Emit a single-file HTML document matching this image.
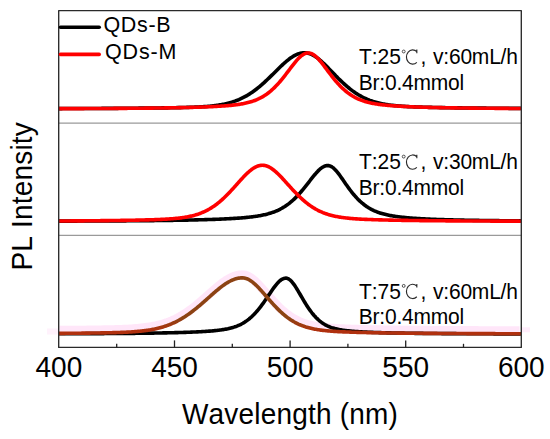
<!DOCTYPE html>
<html><head><meta charset="utf-8"><style>
html,body{margin:0;padding:0;background:#fff;}
svg{display:block;}
text{font-family:"Liberation Sans",sans-serif;fill:#000;font-kerning:none;}
</style></head><body>
<svg width="550" height="439" viewBox="0 0 550 439">
<defs><linearGradient id="bg" gradientUnits="userSpaceOnUse" x1="0" y1="318" x2="0" y2="331"><stop offset="0" stop-color="#8c4313"/><stop offset="1" stop-color="#b0300e"/></linearGradient><filter id="bl" x="-5%" y="-20%" width="110%" height="140%"><feGaussianBlur stdDeviation="2.5"/></filter></defs>
<g fill="none" stroke-linejoin="round" stroke-linecap="butt">
<path d="M59.50,333.37 L61.50,333.35 L63.50,333.34 L65.50,333.32 L67.50,333.31 L69.50,333.29 L71.50,333.27 L73.50,333.25 L75.50,333.24 L77.50,333.22 L79.50,333.20 L81.50,333.18 L83.50,333.16 L85.50,333.13 L87.50,333.11 L89.50,333.09 L91.50,333.06 L93.50,333.03 L95.50,333.01 L97.50,332.98 L99.50,332.94 L101.50,332.91 L103.50,332.87 L105.50,332.84 L107.50,332.80 L109.50,332.75 L111.50,332.70 L113.50,332.65 L115.50,332.60 L117.50,332.53 L119.50,332.47 L121.50,332.39 L123.50,332.31 L125.50,332.22 L127.50,332.12 L129.50,332.01 L131.50,331.89 L133.50,331.76 L135.50,331.61 L137.50,331.44 L139.50,331.26 L141.50,331.05 L143.50,330.82 L145.50,330.57 L147.50,330.29 L149.50,329.98 L151.50,329.64 L153.50,329.26 L155.50,328.85 L157.50,328.39 L159.50,327.89 L161.50,327.35 L163.50,326.75 L165.50,326.10 L167.50,325.40 L169.50,324.64 L171.50,323.82 L173.50,322.94 L175.50,321.99 L177.50,320.98 L179.50,319.90 L181.50,318.75 L183.50,317.54 L185.50,316.26 L187.50,314.91 L189.50,313.50 L191.50,312.03 L193.50,310.50 L195.50,308.92 L197.50,307.29 L199.50,305.61 L201.50,303.90 L203.50,302.16 L205.50,300.39 L207.50,298.61 L209.50,296.83 L211.50,295.06 L213.50,293.30 L215.50,291.57 L217.50,289.89 L219.50,288.26 L221.50,286.71 L223.50,285.23 L225.50,283.85 L227.50,282.59 L229.50,281.45 L231.50,280.45 L233.50,279.59 L235.50,278.90 L237.50,278.38 L239.50,278.03 L241.50,277.86 L243.50,277.91 L245.50,278.29 L247.50,279.01 L249.50,280.04 L251.50,281.35 L253.50,282.92 L255.50,284.70 L257.50,286.65 L259.50,288.74 L261.50,290.94 L263.50,293.20 L265.50,295.49 L267.50,297.80 L269.50,300.09 L271.50,302.35 L273.50,304.55 L275.50,306.69 L277.50,308.74 L279.50,310.70 L281.50,312.57 L283.50,314.33 L285.50,315.98 L287.50,317.52 L289.50,318.95 L291.50,320.28 L293.50,321.50 L295.50,322.61 L297.50,323.63 L299.50,324.55 L301.50,325.39 L303.50,326.14 L305.50,326.82 L307.50,327.43 L309.50,327.97 L311.50,328.45 L313.50,328.89 L315.50,329.27 L317.50,329.61 L319.50,329.92 L321.50,330.19 L323.50,330.43 L325.50,330.65 L327.50,330.84 L329.50,331.01 L331.50,331.17 L333.50,331.31 L335.50,331.44 L337.50,331.56 L339.50,331.67 L341.50,331.76 L343.50,331.86 L345.50,331.94 L347.50,332.02 L349.50,332.09 L351.50,332.16 L353.50,332.23 L355.50,332.29 L357.50,332.35 L359.50,332.40 L361.50,332.45 L363.50,332.50 L365.50,332.55 L367.50,332.59 L369.50,332.64 L371.50,332.68 L373.50,332.72 L375.50,332.76 L377.50,332.79 L379.50,332.83 L381.50,332.86 L383.50,332.89 L385.50,332.92 L387.50,332.95 L389.50,332.98 L391.50,333.01 L393.50,333.03 L395.50,333.06 L397.50,333.08 L399.50,333.11 L401.50,333.13 L403.50,333.15 L405.50,333.17 L407.50,333.19 L409.50,333.21 L411.50,333.23 L413.50,333.25 L415.50,333.27 L417.50,333.28 L419.50,333.30 L421.50,333.32 L423.50,333.33 L425.50,333.35 L427.50,333.36 L429.50,333.38 L431.50,333.39 L433.50,333.40 L435.50,333.42 L437.50,333.43 L439.50,333.44 L441.50,333.45 L443.50,333.46 L445.50,333.48 L447.50,333.49 L449.50,333.50 L451.50,333.51 L453.50,333.52 L455.50,333.53 L457.50,333.54 L459.50,333.55 L461.50,333.55 L463.50,333.56 L465.50,333.57 L467.50,333.58 L469.50,333.59 L471.50,333.60 L473.50,333.60 L475.50,333.61 L477.50,333.62 L479.50,333.63 L481.50,333.63 L483.50,333.64 L485.50,333.65 L487.50,333.65 L489.50,333.66 L491.50,333.66 L493.50,333.67 L495.50,333.68 L497.50,333.68 L499.50,333.69 L501.50,333.69 L503.50,333.70 L505.50,333.70 L507.50,333.71 L509.50,333.71 L511.50,333.72 L513.50,333.72 L515.50,333.73 L517.50,333.73 L519.50,333.74" stroke="#ffc4f1" stroke-width="9" opacity="0.42" transform="translate(0,-3)"/>
<path d="M47.00,333.45 L58.00,333.38" stroke="#ffc4f1" stroke-width="6" opacity="0.22" transform="translate(0,-2)"/>
<path d="M522.00,333.74 L530.00,333.76" stroke="#ffc4f1" stroke-width="5" opacity="0.3" transform="translate(0,-4)"/>
</g>
<line x1="58.7" y1="123.1" x2="521.3" y2="123.1" stroke="#9a9a9a" stroke-width="1.3"/>
<line x1="58.7" y1="235.4" x2="521.3" y2="235.4" stroke="#9a9a9a" stroke-width="1.1"/>
<g fill="none" stroke-width="3.6" stroke-linejoin="round">
<path d="M58.90,108.59 L59.90,108.58 L60.90,108.58 L61.90,108.58 L62.90,108.57 L63.90,108.57 L64.90,108.57 L65.90,108.56 L66.90,108.56 L67.90,108.56 L68.90,108.56 L69.90,108.55 L70.90,108.55 L71.90,108.55 L72.90,108.54 L73.90,108.54 L74.90,108.54 L75.90,108.53 L76.90,108.53 L77.90,108.52 L78.90,108.52 L79.90,108.52 L80.90,108.51 L81.90,108.51 L82.90,108.51 L83.90,108.50 L84.90,108.50 L85.90,108.49 L86.90,108.49 L87.90,108.49 L88.90,108.48 L89.90,108.48 L90.90,108.47 L91.90,108.47 L92.90,108.46 L93.90,108.46 L94.90,108.45 L95.90,108.45 L96.90,108.45 L97.90,108.44 L98.90,108.44 L99.90,108.43 L100.90,108.43 L101.90,108.42 L102.90,108.42 L103.90,108.41 L104.90,108.41 L105.90,108.40 L106.90,108.40 L107.90,108.39 L108.90,108.38 L109.90,108.38 L110.90,108.37 L111.90,108.37 L112.90,108.36 L113.90,108.36 L114.90,108.35 L115.90,108.34 L116.90,108.34 L117.90,108.33 L118.90,108.32 L119.90,108.32 L120.90,108.31 L121.90,108.30 L122.90,108.30 L123.90,108.29 L124.90,108.28 L125.90,108.28 L126.90,108.27 L127.90,108.26 L128.90,108.25 L129.90,108.25 L130.90,108.24 L131.90,108.23 L132.90,108.22 L133.90,108.21 L134.90,108.21 L135.90,108.20 L136.90,108.19 L137.90,108.18 L138.90,108.17 L139.90,108.16 L140.90,108.15 L141.90,108.14 L142.90,108.13 L143.90,108.13 L144.90,108.12 L145.90,108.11 L146.90,108.10 L147.90,108.08 L148.90,108.07 L149.90,108.06 L150.90,108.05 L151.90,108.04 L152.90,108.03 L153.90,108.02 L154.90,108.01 L155.90,107.99 L156.90,107.98 L157.90,107.97 L158.90,107.96 L159.90,107.94 L160.90,107.93 L161.90,107.92 L162.90,107.90 L163.90,107.89 L164.90,107.87 L165.90,107.86 L166.90,107.84 L167.90,107.83 L168.90,107.81 L169.90,107.79 L170.90,107.78 L171.90,107.76 L172.90,107.74 L173.90,107.72 L174.90,107.70 L175.90,107.68 L176.90,107.66 L177.90,107.64 L178.90,107.62 L179.90,107.60 L180.90,107.58 L181.90,107.55 L182.90,107.53 L183.90,107.50 L184.90,107.47 L185.90,107.45 L186.90,107.42 L187.90,107.39 L188.90,107.36 L189.90,107.32 L190.90,107.29 L191.90,107.25 L192.90,107.21 L193.90,107.18 L194.90,107.13 L195.90,107.09 L196.90,107.05 L197.90,107.00 L198.90,106.95 L199.90,106.89 L200.90,106.84 L201.90,106.78 L202.90,106.72 L203.90,106.65 L204.90,106.58 L205.90,106.51 L206.90,106.43 L207.90,106.35 L208.90,106.26 L209.90,106.17 L210.90,106.07 L211.90,105.97 L212.90,105.86 L213.90,105.75 L214.90,105.62 L215.90,105.50 L216.90,105.36 L217.90,105.22 L218.90,105.06 L219.90,104.90 L220.90,104.73 L221.90,104.55 L222.90,104.36 L223.90,104.16 L224.90,103.95 L225.90,103.73 L226.90,103.50 L227.90,103.25 L228.90,102.99 L229.90,102.72 L230.90,102.43 L231.90,102.13 L232.90,101.82 L233.90,101.48 L234.90,101.14 L235.90,100.77 L236.90,100.39 L237.90,99.99 L238.90,99.58 L239.90,99.14 L240.90,98.69 L241.90,98.22 L242.90,97.73 L243.90,97.22 L244.90,96.69 L245.90,96.14 L246.90,95.57 L247.90,94.98 L248.90,94.37 L249.90,93.73 L250.90,93.08 L251.90,92.41 L252.90,91.71 L253.90,91.00 L254.90,90.26 L255.90,89.50 L256.90,88.73 L257.90,87.93 L258.90,87.12 L259.90,86.29 L260.90,85.44 L261.90,84.57 L262.90,83.69 L263.90,82.79 L264.90,81.87 L265.90,80.94 L266.90,80.00 L267.90,79.05 L268.90,78.09 L269.90,77.12 L270.90,76.14 L271.90,75.15 L272.90,74.16 L273.90,73.17 L274.90,72.18 L275.90,71.19 L276.90,70.20 L277.90,69.21 L278.90,68.23 L279.90,67.26 L280.90,66.30 L281.90,65.36 L282.90,64.42 L283.90,63.51 L284.90,62.62 L285.90,61.75 L286.90,60.91 L287.90,60.09 L288.90,59.30 L289.90,58.55 L290.90,57.83 L291.90,57.15 L292.90,56.51 L293.90,55.92 L294.90,55.37 L295.90,54.87 L296.90,54.41 L297.90,54.01 L298.90,53.66 L299.90,53.37 L300.90,53.13 L301.90,52.95 L302.90,52.83 L303.90,52.76 L304.90,52.76 L305.90,52.82 L306.90,52.95 L307.90,53.14 L308.90,53.40 L309.90,53.73 L310.90,54.12 L311.90,54.57 L312.90,55.08 L313.90,55.64 L314.90,56.26 L315.90,56.92 L316.90,57.63 L317.90,58.39 L318.90,59.19 L319.90,60.02 L320.90,60.88 L321.90,61.78 L322.90,62.71 L323.90,63.65 L324.90,64.62 L325.90,65.61 L326.90,66.61 L327.90,67.63 L328.90,68.65 L329.90,69.68 L330.90,70.71 L331.90,71.75 L332.90,72.79 L333.90,73.82 L334.90,74.85 L335.90,75.88 L336.90,76.89 L337.90,77.90 L338.90,78.90 L339.90,79.88 L340.90,80.85 L341.90,81.81 L342.90,82.74 L343.90,83.67 L344.90,84.57 L345.90,85.46 L346.90,86.32 L347.90,87.17 L348.90,87.99 L349.90,88.80 L350.90,89.58 L351.90,90.34 L352.90,91.08 L353.90,91.80 L354.90,92.49 L355.90,93.16 L356.90,93.81 L357.90,94.44 L358.90,95.05 L359.90,95.63 L360.90,96.19 L361.90,96.73 L362.90,97.25 L363.90,97.75 L364.90,98.23 L365.90,98.68 L366.90,99.12 L367.90,99.54 L368.90,99.94 L369.90,100.33 L370.90,100.69 L371.90,101.04 L372.90,101.37 L373.90,101.69 L374.90,101.99 L375.90,102.28 L376.90,102.55 L377.90,102.81 L378.90,103.06 L379.90,103.29 L380.90,103.51 L381.90,103.72 L382.90,103.92 L383.90,104.11 L384.90,104.29 L385.90,104.46 L386.90,104.62 L387.90,104.77 L388.90,104.91 L389.90,105.05 L390.90,105.18 L391.90,105.30 L392.90,105.41 L393.90,105.52 L394.90,105.63 L395.90,105.73 L396.90,105.82 L397.90,105.91 L398.90,105.99 L399.90,106.07 L400.90,106.15 L401.90,106.22 L402.90,106.29 L403.90,106.35 L404.90,106.42 L405.90,106.47 L406.90,106.53 L407.90,106.59 L408.90,106.64 L409.90,106.69 L410.90,106.73 L411.90,106.78 L412.90,106.82 L413.90,106.86 L414.90,106.91 L415.90,106.94 L416.90,106.98 L417.90,107.02 L418.90,107.05 L419.90,107.09 L420.90,107.12 L421.90,107.15 L422.90,107.18 L423.90,107.21 L424.90,107.24 L425.90,107.27 L426.90,107.29 L427.90,107.32 L428.90,107.34 L429.90,107.37 L430.90,107.39 L431.90,107.42 L432.90,107.44 L433.90,107.46 L434.90,107.48 L435.90,107.50 L436.90,107.52 L437.90,107.54 L438.90,107.56 L439.90,107.58 L440.90,107.60 L441.90,107.62 L442.90,107.64 L443.90,107.66 L444.90,107.67 L445.90,107.69 L446.90,107.71 L447.90,107.72 L448.90,107.74 L449.90,107.76 L450.90,107.77 L451.90,107.79 L452.90,107.80 L453.90,107.82 L454.90,107.83 L455.90,107.84 L456.90,107.86 L457.90,107.87 L458.90,107.88 L459.90,107.90 L460.90,107.91 L461.90,107.92 L462.90,107.94 L463.90,107.95 L464.90,107.96 L465.90,107.97 L466.90,107.98 L467.90,107.99 L468.90,108.00 L469.90,108.02 L470.90,108.03 L471.90,108.04 L472.90,108.05 L473.90,108.06 L474.90,108.07 L475.90,108.08 L476.90,108.09 L477.90,108.10 L478.90,108.11 L479.90,108.11 L480.90,108.12 L481.90,108.13 L482.90,108.14 L483.90,108.15 L484.90,108.16 L485.90,108.17 L486.90,108.18 L487.90,108.18 L488.90,108.19 L489.90,108.20 L490.90,108.21 L491.90,108.21 L492.90,108.22 L493.90,108.23 L494.90,108.24 L495.90,108.24 L496.90,108.25 L497.90,108.26 L498.90,108.26 L499.90,108.27 L500.90,108.28 L501.90,108.28 L502.90,108.29 L503.90,108.30 L504.90,108.30 L505.90,108.31 L506.90,108.32 L507.90,108.32 L508.90,108.33 L509.90,108.33 L510.90,108.34 L511.90,108.35 L512.90,108.35 L513.90,108.36 L514.90,108.36 L515.90,108.37 L516.90,108.37 L517.90,108.38 L518.90,108.38 L519.90,108.39 L520.90,108.39" stroke="#000"/>
<path d="M58.90,108.66 L59.90,108.66 L60.90,108.66 L61.90,108.66 L62.90,108.65 L63.90,108.65 L64.90,108.65 L65.90,108.64 L66.90,108.64 L67.90,108.64 L68.90,108.63 L69.90,108.63 L70.90,108.63 L71.90,108.62 L72.90,108.62 L73.90,108.61 L74.90,108.61 L75.90,108.61 L76.90,108.60 L77.90,108.60 L78.90,108.60 L79.90,108.59 L80.90,108.59 L81.90,108.58 L82.90,108.58 L83.90,108.58 L84.90,108.57 L85.90,108.57 L86.90,108.56 L87.90,108.56 L88.90,108.55 L89.90,108.55 L90.90,108.54 L91.90,108.54 L92.90,108.54 L93.90,108.53 L94.90,108.53 L95.90,108.52 L96.90,108.52 L97.90,108.51 L98.90,108.51 L99.90,108.50 L100.90,108.50 L101.90,108.49 L102.90,108.48 L103.90,108.48 L104.90,108.47 L105.90,108.47 L106.90,108.46 L107.90,108.46 L108.90,108.45 L109.90,108.45 L110.90,108.44 L111.90,108.43 L112.90,108.43 L113.90,108.42 L114.90,108.41 L115.90,108.41 L116.90,108.40 L117.90,108.39 L118.90,108.39 L119.90,108.38 L120.90,108.37 L121.90,108.37 L122.90,108.36 L123.90,108.35 L124.90,108.34 L125.90,108.34 L126.90,108.33 L127.90,108.32 L128.90,108.31 L129.90,108.31 L130.90,108.30 L131.90,108.29 L132.90,108.28 L133.90,108.27 L134.90,108.26 L135.90,108.25 L136.90,108.24 L137.90,108.24 L138.90,108.23 L139.90,108.22 L140.90,108.21 L141.90,108.20 L142.90,108.19 L143.90,108.18 L144.90,108.17 L145.90,108.16 L146.90,108.14 L147.90,108.13 L148.90,108.12 L149.90,108.11 L150.90,108.10 L151.90,108.09 L152.90,108.08 L153.90,108.06 L154.90,108.05 L155.90,108.04 L156.90,108.03 L157.90,108.01 L158.90,108.00 L159.90,107.98 L160.90,107.97 L161.90,107.96 L162.90,107.94 L163.90,107.93 L164.90,107.91 L165.90,107.90 L166.90,107.88 L167.90,107.86 L168.90,107.85 L169.90,107.83 L170.90,107.81 L171.90,107.80 L172.90,107.78 L173.90,107.76 L174.90,107.74 L175.90,107.72 L176.90,107.70 L177.90,107.68 L178.90,107.66 L179.90,107.64 L180.90,107.62 L181.90,107.60 L182.90,107.58 L183.90,107.56 L184.90,107.53 L185.90,107.51 L186.90,107.48 L187.90,107.46 L188.90,107.43 L189.90,107.41 L190.90,107.38 L191.90,107.35 L192.90,107.33 L193.90,107.30 L194.90,107.27 L195.90,107.24 L196.90,107.21 L197.90,107.18 L198.90,107.14 L199.90,107.11 L200.90,107.08 L201.90,107.04 L202.90,107.01 L203.90,106.97 L204.90,106.93 L205.90,106.89 L206.90,106.85 L207.90,106.81 L208.90,106.77 L209.90,106.72 L210.90,106.68 L211.90,106.63 L212.90,106.58 L213.90,106.53 L214.90,106.48 L215.90,106.43 L216.90,106.38 L217.90,106.32 L218.90,106.26 L219.90,106.20 L220.90,106.14 L221.90,106.07 L222.90,106.00 L223.90,105.93 L224.90,105.86 L225.90,105.78 L226.90,105.70 L227.90,105.62 L228.90,105.53 L229.90,105.44 L230.90,105.35 L231.90,105.25 L232.90,105.14 L233.90,105.03 L234.90,104.91 L235.90,104.79 L236.90,104.66 L237.90,104.52 L238.90,104.38 L239.90,104.22 L240.90,104.06 L241.90,103.89 L242.90,103.71 L243.90,103.52 L244.90,103.31 L245.90,103.10 L246.90,102.87 L247.90,102.62 L248.90,102.36 L249.90,102.09 L250.90,101.80 L251.90,101.49 L252.90,101.16 L253.90,100.81 L254.90,100.44 L255.90,100.05 L256.90,99.63 L257.90,99.19 L258.90,98.73 L259.90,98.24 L260.90,97.72 L261.90,97.17 L262.90,96.60 L263.90,95.99 L264.90,95.35 L265.90,94.68 L266.90,93.98 L267.90,93.24 L268.90,92.47 L269.90,91.67 L270.90,90.83 L271.90,89.95 L272.90,89.04 L273.90,88.10 L274.90,87.12 L275.90,86.10 L276.90,85.05 L277.90,83.97 L278.90,82.85 L279.90,81.70 L280.90,80.53 L281.90,79.32 L282.90,78.09 L283.90,76.83 L284.90,75.56 L285.90,74.26 L286.90,72.95 L287.90,71.64 L288.90,70.31 L289.90,68.98 L290.90,67.66 L291.90,66.35 L292.90,65.06 L293.90,63.79 L294.90,62.54 L295.90,61.34 L296.90,60.19 L297.90,59.09 L298.90,58.05 L299.90,57.09 L300.90,56.21 L301.90,55.42 L302.90,54.73 L303.90,54.14 L304.90,53.67 L305.90,53.31 L306.90,53.07 L307.90,52.96 L308.90,52.97 L309.90,53.12 L310.90,53.39 L311.90,53.79 L312.90,54.31 L313.90,54.95 L314.90,55.69 L315.90,56.53 L316.90,57.46 L317.90,58.48 L318.90,59.56 L319.90,60.71 L320.90,61.91 L321.90,63.15 L322.90,64.43 L323.90,65.73 L324.90,67.05 L325.90,68.39 L326.90,69.73 L327.90,71.07 L328.90,72.40 L329.90,73.72 L330.90,75.03 L331.90,76.32 L332.90,77.59 L333.90,78.83 L334.90,80.05 L335.90,81.23 L336.90,82.39 L337.90,83.51 L338.90,84.61 L339.90,85.66 L340.90,86.68 L341.90,87.67 L342.90,88.62 L343.90,89.53 L344.90,90.41 L345.90,91.25 L346.90,92.06 L347.90,92.83 L348.90,93.56 L349.90,94.27 L350.90,94.94 L351.90,95.58 L352.90,96.19 L353.90,96.76 L354.90,97.31 L355.90,97.83 L356.90,98.32 L357.90,98.79 L358.90,99.23 L359.90,99.65 L360.90,100.05 L361.90,100.42 L362.90,100.77 L363.90,101.10 L364.90,101.42 L365.90,101.71 L366.90,101.99 L367.90,102.26 L368.90,102.50 L369.90,102.74 L370.90,102.96 L371.90,103.17 L372.90,103.37 L373.90,103.56 L374.90,103.73 L375.90,103.90 L376.90,104.06 L377.90,104.21 L378.90,104.35 L379.90,104.49 L380.90,104.61 L381.90,104.74 L382.90,104.85 L383.90,104.96 L384.90,105.07 L385.90,105.17 L386.90,105.27 L387.90,105.36 L388.90,105.45 L389.90,105.54 L390.90,105.62 L391.90,105.70 L392.90,105.77 L393.90,105.84 L394.90,105.91 L395.90,105.98 L396.90,106.05 L397.90,106.11 L398.90,106.17 L399.90,106.23 L400.90,106.29 L401.90,106.34 L402.90,106.40 L403.90,106.45 L404.90,106.50 L405.90,106.55 L406.90,106.59 L407.90,106.64 L408.90,106.68 L409.90,106.73 L410.90,106.77 L411.90,106.81 L412.90,106.85 L413.90,106.89 L414.90,106.93 L415.90,106.97 L416.90,107.00 L417.90,107.04 L418.90,107.07 L419.90,107.10 L420.90,107.14 L421.90,107.17 L422.90,107.20 L423.90,107.23 L424.90,107.26 L425.90,107.29 L426.90,107.32 L427.90,107.34 L428.90,107.37 L429.90,107.40 L430.90,107.42 L431.90,107.45 L432.90,107.47 L433.90,107.50 L434.90,107.52 L435.90,107.54 L436.90,107.56 L437.90,107.59 L438.90,107.61 L439.90,107.63 L440.90,107.65 L441.90,107.67 L442.90,107.69 L443.90,107.71 L444.90,107.73 L445.90,107.74 L446.90,107.76 L447.90,107.78 L448.90,107.80 L449.90,107.81 L450.90,107.83 L451.90,107.85 L452.90,107.86 L453.90,107.88 L454.90,107.89 L455.90,107.91 L456.90,107.92 L457.90,107.94 L458.90,107.95 L459.90,107.97 L460.90,107.98 L461.90,107.99 L462.90,108.01 L463.90,108.02 L464.90,108.03 L465.90,108.05 L466.90,108.06 L467.90,108.07 L468.90,108.08 L469.90,108.09 L470.90,108.11 L471.90,108.12 L472.90,108.13 L473.90,108.14 L474.90,108.15 L475.90,108.16 L476.90,108.17 L477.90,108.18 L478.90,108.19 L479.90,108.20 L480.90,108.21 L481.90,108.22 L482.90,108.23 L483.90,108.24 L484.90,108.25 L485.90,108.25 L486.90,108.26 L487.90,108.27 L488.90,108.28 L489.90,108.29 L490.90,108.30 L491.90,108.30 L492.90,108.31 L493.90,108.32 L494.90,108.33 L495.90,108.34 L496.90,108.34 L497.90,108.35 L498.90,108.36 L499.90,108.36 L500.90,108.37 L501.90,108.38 L502.90,108.38 L503.90,108.39 L504.90,108.40 L505.90,108.40 L506.90,108.41 L507.90,108.42 L508.90,108.42 L509.90,108.43 L510.90,108.44 L511.90,108.44 L512.90,108.45 L513.90,108.45 L514.90,108.46 L515.90,108.46 L516.90,108.47 L517.90,108.48 L518.90,108.48 L519.90,108.49 L520.90,108.49" stroke="#ff0000"/>
<path d="M58.90,221.14 L59.90,221.14 L60.90,221.13 L61.90,221.13 L62.90,221.13 L63.90,221.12 L64.90,221.12 L65.90,221.12 L66.90,221.11 L67.90,221.11 L68.90,221.11 L69.90,221.10 L70.90,221.10 L71.90,221.10 L72.90,221.09 L73.90,221.09 L74.90,221.09 L75.90,221.08 L76.90,221.08 L77.90,221.07 L78.90,221.07 L79.90,221.07 L80.90,221.06 L81.90,221.06 L82.90,221.06 L83.90,221.05 L84.90,221.05 L85.90,221.04 L86.90,221.04 L87.90,221.04 L88.90,221.03 L89.90,221.03 L90.90,221.02 L91.90,221.02 L92.90,221.01 L93.90,221.01 L94.90,221.00 L95.90,221.00 L96.90,220.99 L97.90,220.99 L98.90,220.99 L99.90,220.98 L100.90,220.98 L101.90,220.97 L102.90,220.97 L103.90,220.96 L104.90,220.95 L105.90,220.95 L106.90,220.94 L107.90,220.94 L108.90,220.93 L109.90,220.93 L110.90,220.92 L111.90,220.92 L112.90,220.91 L113.90,220.90 L114.90,220.90 L115.90,220.89 L116.90,220.89 L117.90,220.88 L118.90,220.87 L119.90,220.87 L120.90,220.86 L121.90,220.85 L122.90,220.85 L123.90,220.84 L124.90,220.83 L125.90,220.83 L126.90,220.82 L127.90,220.81 L128.90,220.81 L129.90,220.80 L130.90,220.79 L131.90,220.78 L132.90,220.78 L133.90,220.77 L134.90,220.76 L135.90,220.75 L136.90,220.74 L137.90,220.73 L138.90,220.73 L139.90,220.72 L140.90,220.71 L141.90,220.70 L142.90,220.69 L143.90,220.68 L144.90,220.67 L145.90,220.66 L146.90,220.65 L147.90,220.64 L148.90,220.63 L149.90,220.62 L150.90,220.61 L151.90,220.60 L152.90,220.59 L153.90,220.58 L154.90,220.57 L155.90,220.56 L156.90,220.55 L157.90,220.54 L158.90,220.53 L159.90,220.51 L160.90,220.50 L161.90,220.49 L162.90,220.48 L163.90,220.46 L164.90,220.45 L165.90,220.44 L166.90,220.42 L167.90,220.41 L168.90,220.40 L169.90,220.38 L170.90,220.37 L171.90,220.35 L172.90,220.34 L173.90,220.32 L174.90,220.31 L175.90,220.29 L176.90,220.28 L177.90,220.26 L178.90,220.24 L179.90,220.22 L180.90,220.21 L181.90,220.19 L182.90,220.17 L183.90,220.15 L184.90,220.13 L185.90,220.11 L186.90,220.10 L187.90,220.08 L188.90,220.05 L189.90,220.03 L190.90,220.01 L191.90,219.99 L192.90,219.97 L193.90,219.95 L194.90,219.92 L195.90,219.90 L196.90,219.87 L197.90,219.85 L198.90,219.82 L199.90,219.80 L200.90,219.77 L201.90,219.75 L202.90,219.72 L203.90,219.69 L204.90,219.66 L205.90,219.63 L206.90,219.60 L207.90,219.57 L208.90,219.54 L209.90,219.51 L210.90,219.47 L211.90,219.44 L212.90,219.40 L213.90,219.37 L214.90,219.33 L215.90,219.29 L216.90,219.26 L217.90,219.22 L218.90,219.18 L219.90,219.13 L220.90,219.09 L221.90,219.05 L222.90,219.00 L223.90,218.96 L224.90,218.91 L225.90,218.86 L226.90,218.81 L227.90,218.76 L228.90,218.71 L229.90,218.65 L230.90,218.60 L231.90,218.54 L232.90,218.48 L233.90,218.42 L234.90,218.35 L235.90,218.29 L236.90,218.22 L237.90,218.15 L238.90,218.08 L239.90,218.00 L240.90,217.93 L241.90,217.85 L242.90,217.76 L243.90,217.68 L244.90,217.59 L245.90,217.49 L246.90,217.40 L247.90,217.29 L248.90,217.19 L249.90,217.08 L250.90,216.96 L251.90,216.84 L252.90,216.72 L253.90,216.59 L254.90,216.45 L255.90,216.31 L256.90,216.16 L257.90,216.00 L258.90,215.83 L259.90,215.66 L260.90,215.47 L261.90,215.28 L262.90,215.07 L263.90,214.86 L264.90,214.63 L265.90,214.39 L266.90,214.14 L267.90,213.88 L268.90,213.60 L269.90,213.30 L270.90,212.99 L271.90,212.66 L272.90,212.31 L273.90,211.95 L274.90,211.56 L275.90,211.16 L276.90,210.73 L277.90,210.28 L278.90,209.80 L279.90,209.31 L280.90,208.78 L281.90,208.23 L282.90,207.65 L283.90,207.05 L284.90,206.42 L285.90,205.75 L286.90,205.06 L287.90,204.33 L288.90,203.58 L289.90,202.79 L290.90,201.97 L291.90,201.11 L292.90,200.23 L293.90,199.31 L294.90,198.35 L295.90,197.37 L296.90,196.35 L297.90,195.30 L298.90,194.21 L299.90,193.10 L300.90,191.96 L301.90,190.79 L302.90,189.60 L303.90,188.38 L304.90,187.14 L305.90,185.88 L306.90,184.61 L307.90,183.33 L308.90,182.04 L309.90,180.75 L310.90,179.46 L311.90,178.18 L312.90,176.92 L313.90,175.69 L314.90,174.48 L315.90,173.32 L316.90,172.20 L317.90,171.14 L318.90,170.15 L319.90,169.23 L320.90,168.40 L321.90,167.66 L322.90,167.02 L323.90,166.49 L324.90,166.07 L325.90,165.78 L326.90,165.60 L327.90,165.55 L328.90,165.65 L329.90,165.91 L330.90,166.33 L331.90,166.90 L332.90,167.61 L333.90,168.45 L334.90,169.42 L335.90,170.49 L336.90,171.65 L337.90,172.89 L338.90,174.20 L339.90,175.55 L340.90,176.95 L341.90,178.38 L342.90,179.82 L343.90,181.27 L344.90,182.72 L345.90,184.16 L346.90,185.58 L347.90,186.98 L348.90,188.36 L349.90,189.71 L350.90,191.03 L351.90,192.31 L352.90,193.55 L353.90,194.75 L354.90,195.92 L355.90,197.04 L356.90,198.12 L357.90,199.16 L358.90,200.15 L359.90,201.11 L360.90,202.02 L361.90,202.90 L362.90,203.73 L363.90,204.53 L364.90,205.28 L365.90,206.00 L366.90,206.69 L367.90,207.34 L368.90,207.96 L369.90,208.54 L370.90,209.10 L371.90,209.63 L372.90,210.12 L373.90,210.60 L374.90,211.04 L375.90,211.46 L376.90,211.86 L377.90,212.24 L378.90,212.59 L379.90,212.93 L380.90,213.25 L381.90,213.55 L382.90,213.84 L383.90,214.11 L384.90,214.36 L385.90,214.60 L386.90,214.83 L387.90,215.05 L388.90,215.26 L389.90,215.45 L390.90,215.64 L391.90,215.81 L392.90,215.98 L393.90,216.14 L394.90,216.30 L395.90,216.44 L396.90,216.58 L397.90,216.71 L398.90,216.84 L399.90,216.96 L400.90,217.08 L401.90,217.19 L402.90,217.30 L403.90,217.41 L404.90,217.51 L405.90,217.60 L406.90,217.69 L407.90,217.78 L408.90,217.87 L409.90,217.95 L410.90,218.03 L411.90,218.11 L412.90,218.18 L413.90,218.26 L414.90,218.33 L415.90,218.39 L416.90,218.46 L417.90,218.52 L418.90,218.59 L419.90,218.64 L420.90,218.70 L421.90,218.76 L422.90,218.81 L423.90,218.87 L424.90,218.92 L425.90,218.97 L426.90,219.02 L427.90,219.07 L428.90,219.11 L429.90,219.16 L430.90,219.20 L431.90,219.24 L432.90,219.28 L433.90,219.32 L434.90,219.36 L435.90,219.40 L436.90,219.44 L437.90,219.47 L438.90,219.51 L439.90,219.54 L440.90,219.58 L441.90,219.61 L442.90,219.64 L443.90,219.67 L444.90,219.71 L445.90,219.73 L446.90,219.76 L447.90,219.79 L448.90,219.82 L449.90,219.85 L450.90,219.87 L451.90,219.90 L452.90,219.92 L453.90,219.95 L454.90,219.97 L455.90,220.00 L456.90,220.02 L457.90,220.04 L458.90,220.06 L459.90,220.09 L460.90,220.11 L461.90,220.13 L462.90,220.15 L463.90,220.17 L464.90,220.19 L465.90,220.21 L466.90,220.23 L467.90,220.24 L468.90,220.26 L469.90,220.28 L470.90,220.30 L471.90,220.31 L472.90,220.33 L473.90,220.35 L474.90,220.36 L475.90,220.38 L476.90,220.39 L477.90,220.41 L478.90,220.42 L479.90,220.44 L480.90,220.45 L481.90,220.46 L482.90,220.48 L483.90,220.49 L484.90,220.50 L485.90,220.52 L486.90,220.53 L487.90,220.54 L488.90,220.55 L489.90,220.57 L490.90,220.58 L491.90,220.59 L492.90,220.60 L493.90,220.61 L494.90,220.62 L495.90,220.63 L496.90,220.64 L497.90,220.65 L498.90,220.67 L499.90,220.68 L500.90,220.69 L501.90,220.69 L502.90,220.70 L503.90,220.71 L504.90,220.72 L505.90,220.73 L506.90,220.74 L507.90,220.75 L508.90,220.76 L509.90,220.77 L510.90,220.78 L511.90,220.78 L512.90,220.79 L513.90,220.80 L514.90,220.81 L515.90,220.82 L516.90,220.82 L517.90,220.83 L518.90,220.84 L519.90,220.84 L520.90,220.85" stroke="#000"/>
<path d="M58.90,220.99 L59.90,220.98 L60.90,220.98 L61.90,220.97 L62.90,220.97 L63.90,220.96 L64.90,220.96 L65.90,220.95 L66.90,220.94 L67.90,220.94 L68.90,220.93 L69.90,220.93 L70.90,220.92 L71.90,220.91 L72.90,220.91 L73.90,220.90 L74.90,220.89 L75.90,220.89 L76.90,220.88 L77.90,220.87 L78.90,220.87 L79.90,220.86 L80.90,220.85 L81.90,220.84 L82.90,220.84 L83.90,220.83 L84.90,220.82 L85.90,220.81 L86.90,220.80 L87.90,220.80 L88.90,220.79 L89.90,220.78 L90.90,220.77 L91.90,220.76 L92.90,220.75 L93.90,220.74 L94.90,220.73 L95.90,220.72 L96.90,220.71 L97.90,220.71 L98.90,220.70 L99.90,220.69 L100.90,220.67 L101.90,220.66 L102.90,220.65 L103.90,220.64 L104.90,220.63 L105.90,220.62 L106.90,220.61 L107.90,220.60 L108.90,220.59 L109.90,220.57 L110.90,220.56 L111.90,220.55 L112.90,220.54 L113.90,220.52 L114.90,220.51 L115.90,220.50 L116.90,220.48 L117.90,220.47 L118.90,220.45 L119.90,220.44 L120.90,220.42 L121.90,220.41 L122.90,220.39 L123.90,220.38 L124.90,220.36 L125.90,220.34 L126.90,220.33 L127.90,220.31 L128.90,220.29 L129.90,220.27 L130.90,220.26 L131.90,220.24 L132.90,220.22 L133.90,220.20 L134.90,220.18 L135.90,220.16 L136.90,220.14 L137.90,220.11 L138.90,220.09 L139.90,220.07 L140.90,220.05 L141.90,220.02 L142.90,220.00 L143.90,219.97 L144.90,219.95 L145.90,219.92 L146.90,219.89 L147.90,219.86 L148.90,219.84 L149.90,219.81 L150.90,219.77 L151.90,219.74 L152.90,219.71 L153.90,219.68 L154.90,219.64 L155.90,219.60 L156.90,219.57 L157.90,219.53 L158.90,219.48 L159.90,219.44 L160.90,219.40 L161.90,219.35 L162.90,219.30 L163.90,219.25 L164.90,219.20 L165.90,219.14 L166.90,219.08 L167.90,219.02 L168.90,218.96 L169.90,218.89 L170.90,218.82 L171.90,218.75 L172.90,218.67 L173.90,218.58 L174.90,218.50 L175.90,218.40 L176.90,218.30 L177.90,218.20 L178.90,218.09 L179.90,217.97 L180.90,217.85 L181.90,217.72 L182.90,217.58 L183.90,217.43 L184.90,217.28 L185.90,217.11 L186.90,216.94 L187.90,216.75 L188.90,216.56 L189.90,216.35 L190.90,216.13 L191.90,215.89 L192.90,215.65 L193.90,215.39 L194.90,215.11 L195.90,214.82 L196.90,214.51 L197.90,214.19 L198.90,213.84 L199.90,213.48 L200.90,213.10 L201.90,212.70 L202.90,212.28 L203.90,211.84 L204.90,211.38 L205.90,210.90 L206.90,210.39 L207.90,209.86 L208.90,209.30 L209.90,208.73 L210.90,208.12 L211.90,207.49 L212.90,206.84 L213.90,206.16 L214.90,205.45 L215.90,204.72 L216.90,203.97 L217.90,203.18 L218.90,202.37 L219.90,201.54 L220.90,200.68 L221.90,199.80 L222.90,198.89 L223.90,197.96 L224.90,197.00 L225.90,196.03 L226.90,195.03 L227.90,194.02 L228.90,192.98 L229.90,191.93 L230.90,190.87 L231.90,189.79 L232.90,188.70 L233.90,187.60 L234.90,186.49 L235.90,185.37 L236.90,184.26 L237.90,183.14 L238.90,182.03 L239.90,180.92 L240.90,179.82 L241.90,178.73 L242.90,177.65 L243.90,176.60 L244.90,175.57 L245.90,174.56 L246.90,173.58 L247.90,172.64 L248.90,171.74 L249.90,170.88 L250.90,170.07 L251.90,169.30 L252.90,168.60 L253.90,167.95 L254.90,167.36 L255.90,166.84 L256.90,166.39 L257.90,166.01 L258.90,165.71 L259.90,165.48 L260.90,165.33 L261.90,165.26 L262.90,165.26 L263.90,165.35 L264.90,165.52 L265.90,165.76 L266.90,166.08 L267.90,166.48 L268.90,166.94 L269.90,167.48 L270.90,168.08 L271.90,168.74 L272.90,169.46 L273.90,170.23 L274.90,171.05 L275.90,171.92 L276.90,172.83 L277.90,173.78 L278.90,174.76 L279.90,175.76 L280.90,176.80 L281.90,177.85 L282.90,178.93 L283.90,180.01 L284.90,181.11 L285.90,182.22 L286.90,183.33 L287.90,184.44 L288.90,185.55 L289.90,186.65 L290.90,187.75 L291.90,188.85 L292.90,189.93 L293.90,191.00 L294.90,192.05 L295.90,193.09 L296.90,194.11 L297.90,195.12 L298.90,196.10 L299.90,197.07 L300.90,198.01 L301.90,198.93 L302.90,199.82 L303.90,200.69 L304.90,201.54 L305.90,202.37 L306.90,203.16 L307.90,203.94 L308.90,204.68 L309.90,205.40 L310.90,206.10 L311.90,206.77 L312.90,207.42 L313.90,208.04 L314.90,208.63 L315.90,209.21 L316.90,209.75 L317.90,210.28 L318.90,210.78 L319.90,211.26 L320.90,211.72 L321.90,212.15 L322.90,212.57 L323.90,212.96 L324.90,213.34 L325.90,213.70 L326.90,214.04 L327.90,214.36 L328.90,214.67 L329.90,214.96 L330.90,215.23 L331.90,215.49 L332.90,215.74 L333.90,215.97 L334.90,216.19 L335.90,216.40 L336.90,216.59 L337.90,216.78 L338.90,216.96 L339.90,217.12 L340.90,217.28 L341.90,217.43 L342.90,217.57 L343.90,217.70 L344.90,217.82 L345.90,217.94 L346.90,218.05 L347.90,218.16 L348.90,218.26 L349.90,218.35 L350.90,218.44 L351.90,218.53 L352.90,218.61 L353.90,218.69 L354.90,218.76 L355.90,218.83 L356.90,218.90 L357.90,218.96 L358.90,219.02 L359.90,219.08 L360.90,219.13 L361.90,219.18 L362.90,219.23 L363.90,219.28 L364.90,219.33 L365.90,219.37 L366.90,219.42 L367.90,219.46 L368.90,219.50 L369.90,219.54 L370.90,219.57 L371.90,219.61 L372.90,219.64 L373.90,219.68 L374.90,219.71 L375.90,219.74 L376.90,219.77 L377.90,219.80 L378.90,219.83 L379.90,219.86 L380.90,219.88 L381.90,219.91 L382.90,219.94 L383.90,219.96 L384.90,219.99 L385.90,220.01 L386.90,220.03 L387.90,220.06 L388.90,220.08 L389.90,220.10 L390.90,220.12 L391.90,220.14 L392.90,220.16 L393.90,220.18 L394.90,220.20 L395.90,220.22 L396.90,220.24 L397.90,220.26 L398.90,220.28 L399.90,220.29 L400.90,220.31 L401.90,220.33 L402.90,220.34 L403.90,220.36 L404.90,220.38 L405.90,220.39 L406.90,220.41 L407.90,220.42 L408.90,220.44 L409.90,220.45 L410.90,220.46 L411.90,220.48 L412.90,220.49 L413.90,220.50 L414.90,220.52 L415.90,220.53 L416.90,220.54 L417.90,220.56 L418.90,220.57 L419.90,220.58 L420.90,220.59 L421.90,220.60 L422.90,220.61 L423.90,220.62 L424.90,220.64 L425.90,220.65 L426.90,220.66 L427.90,220.67 L428.90,220.68 L429.90,220.69 L430.90,220.70 L431.90,220.71 L432.90,220.72 L433.90,220.73 L434.90,220.73 L435.90,220.74 L436.90,220.75 L437.90,220.76 L438.90,220.77 L439.90,220.78 L440.90,220.79 L441.90,220.79 L442.90,220.80 L443.90,220.81 L444.90,220.82 L445.90,220.83 L446.90,220.83 L447.90,220.84 L448.90,220.85 L449.90,220.86 L450.90,220.86 L451.90,220.87 L452.90,220.88 L453.90,220.88 L454.90,220.89 L455.90,220.90 L456.90,220.90 L457.90,220.91 L458.90,220.92 L459.90,220.92 L460.90,220.93 L461.90,220.93 L462.90,220.94 L463.90,220.95 L464.90,220.95 L465.90,220.96 L466.90,220.96 L467.90,220.97 L468.90,220.97 L469.90,220.98 L470.90,220.99 L471.90,220.99 L472.90,221.00 L473.90,221.00 L474.90,221.01 L475.90,221.01 L476.90,221.02 L477.90,221.02 L478.90,221.03 L479.90,221.03 L480.90,221.03 L481.90,221.04 L482.90,221.04 L483.90,221.05 L484.90,221.05 L485.90,221.06 L486.90,221.06 L487.90,221.07 L488.90,221.07 L489.90,221.07 L490.90,221.08 L491.90,221.08 L492.90,221.09 L493.90,221.09 L494.90,221.09 L495.90,221.10 L496.90,221.10 L497.90,221.10 L498.90,221.11 L499.90,221.11 L500.90,221.12 L501.90,221.12 L502.90,221.12 L503.90,221.13 L504.90,221.13 L505.90,221.13 L506.90,221.14 L507.90,221.14 L508.90,221.14 L509.90,221.15 L510.90,221.15 L511.90,221.15 L512.90,221.16 L513.90,221.16 L514.90,221.16 L515.90,221.16 L516.90,221.17 L517.90,221.17 L518.90,221.17 L519.90,221.18 L520.90,221.18" stroke="#ff0000"/>
<path d="M58.90,333.78 L59.90,333.78 L60.90,333.77 L61.90,333.77 L62.90,333.77 L63.90,333.76 L64.90,333.76 L65.90,333.76 L66.90,333.75 L67.90,333.75 L68.90,333.75 L69.90,333.74 L70.90,333.74 L71.90,333.73 L72.90,333.73 L73.90,333.73 L74.90,333.72 L75.90,333.72 L76.90,333.71 L77.90,333.71 L78.90,333.71 L79.90,333.70 L80.90,333.70 L81.90,333.69 L82.90,333.69 L83.90,333.68 L84.90,333.68 L85.90,333.67 L86.90,333.67 L87.90,333.67 L88.90,333.66 L89.90,333.66 L90.90,333.65 L91.90,333.65 L92.90,333.64 L93.90,333.63 L94.90,333.63 L95.90,333.62 L96.90,333.62 L97.90,333.61 L98.90,333.61 L99.90,333.60 L100.90,333.60 L101.90,333.59 L102.90,333.58 L103.90,333.58 L104.90,333.57 L105.90,333.57 L106.90,333.56 L107.90,333.55 L108.90,333.55 L109.90,333.54 L110.90,333.53 L111.90,333.52 L112.90,333.52 L113.90,333.51 L114.90,333.50 L115.90,333.50 L116.90,333.49 L117.90,333.48 L118.90,333.47 L119.90,333.46 L120.90,333.46 L121.90,333.45 L122.90,333.44 L123.90,333.43 L124.90,333.42 L125.90,333.41 L126.90,333.40 L127.90,333.40 L128.90,333.39 L129.90,333.38 L130.90,333.37 L131.90,333.36 L132.90,333.35 L133.90,333.34 L134.90,333.33 L135.90,333.31 L136.90,333.30 L137.90,333.29 L138.90,333.28 L139.90,333.27 L140.90,333.26 L141.90,333.25 L142.90,333.23 L143.90,333.22 L144.90,333.21 L145.90,333.19 L146.90,333.18 L147.90,333.17 L148.90,333.15 L149.90,333.14 L150.90,333.12 L151.90,333.11 L152.90,333.09 L153.90,333.08 L154.90,333.06 L155.90,333.05 L156.90,333.03 L157.90,333.01 L158.90,333.00 L159.90,332.98 L160.90,332.96 L161.90,332.94 L162.90,332.92 L163.90,332.90 L164.90,332.88 L165.90,332.86 L166.90,332.84 L167.90,332.82 L168.90,332.80 L169.90,332.78 L170.90,332.75 L171.90,332.73 L172.90,332.71 L173.90,332.68 L174.90,332.66 L175.90,332.63 L176.90,332.60 L177.90,332.58 L178.90,332.55 L179.90,332.52 L180.90,332.49 L181.90,332.46 L182.90,332.43 L183.90,332.40 L184.90,332.36 L185.90,332.33 L186.90,332.29 L187.90,332.26 L188.90,332.22 L189.90,332.18 L190.90,332.14 L191.90,332.10 L192.90,332.06 L193.90,332.02 L194.90,331.98 L195.90,331.93 L196.90,331.88 L197.90,331.83 L198.90,331.78 L199.90,331.73 L200.90,331.68 L201.90,331.62 L202.90,331.56 L203.90,331.50 L204.90,331.44 L205.90,331.38 L206.90,331.31 L207.90,331.24 L208.90,331.16 L209.90,331.09 L210.90,331.01 L211.90,330.92 L212.90,330.84 L213.90,330.74 L214.90,330.65 L215.90,330.54 L216.90,330.44 L217.90,330.32 L218.90,330.20 L219.90,330.08 L220.90,329.94 L221.90,329.80 L222.90,329.65 L223.90,329.48 L224.90,329.31 L225.90,329.13 L226.90,328.93 L227.90,328.73 L228.90,328.50 L229.90,328.26 L230.90,328.01 L231.90,327.74 L232.90,327.45 L233.90,327.14 L234.90,326.80 L235.90,326.45 L236.90,326.07 L237.90,325.66 L238.90,325.23 L239.90,324.77 L240.90,324.28 L241.90,323.76 L242.90,323.20 L243.90,322.61 L244.90,321.98 L245.90,321.31 L246.90,320.61 L247.90,319.87 L248.90,319.08 L249.90,318.25 L250.90,317.38 L251.90,316.47 L252.90,315.51 L253.90,314.51 L254.90,313.46 L255.90,312.37 L256.90,311.24 L257.90,310.06 L258.90,308.84 L259.90,307.58 L260.90,306.28 L261.90,304.95 L262.90,303.58 L263.90,302.18 L264.90,300.75 L265.90,299.30 L266.90,297.84 L267.90,296.36 L268.90,294.88 L269.90,293.39 L270.90,291.92 L271.90,290.47 L272.90,289.04 L273.90,287.65 L274.90,286.32 L275.90,285.04 L276.90,283.83 L277.90,282.71 L278.90,281.69 L279.90,280.78 L280.90,279.99 L281.90,279.33 L282.90,278.81 L283.90,278.43 L284.90,278.21 L285.90,278.15 L286.90,278.28 L287.90,278.61 L288.90,279.15 L289.90,279.87 L290.90,280.78 L291.90,281.84 L292.90,283.06 L293.90,284.39 L294.90,285.84 L295.90,287.37 L296.90,288.97 L297.90,290.62 L298.90,292.31 L299.90,294.02 L300.90,295.74 L301.90,297.46 L302.90,299.16 L303.90,300.85 L304.90,302.50 L305.90,304.11 L306.90,305.69 L307.90,307.21 L308.90,308.69 L309.90,310.11 L310.90,311.47 L311.90,312.78 L312.90,314.03 L313.90,315.22 L314.90,316.34 L315.90,317.41 L316.90,318.42 L317.90,319.38 L318.90,320.27 L319.90,321.11 L320.90,321.90 L321.90,322.64 L322.90,323.32 L323.90,323.96 L324.90,324.56 L325.90,325.11 L326.90,325.63 L327.90,326.10 L328.90,326.54 L329.90,326.95 L330.90,327.33 L331.90,327.68 L332.90,328.00 L333.90,328.30 L334.90,328.58 L335.90,328.83 L336.90,329.07 L337.90,329.29 L338.90,329.49 L339.90,329.68 L340.90,329.86 L341.90,330.02 L342.90,330.18 L343.90,330.32 L344.90,330.45 L345.90,330.58 L346.90,330.70 L347.90,330.81 L348.90,330.91 L349.90,331.01 L350.90,331.11 L351.90,331.19 L352.90,331.28 L353.90,331.36 L354.90,331.44 L355.90,331.51 L356.90,331.58 L357.90,331.65 L358.90,331.71 L359.90,331.77 L360.90,331.83 L361.90,331.89 L362.90,331.94 L363.90,332.00 L364.90,332.05 L365.90,332.10 L366.90,332.14 L367.90,332.19 L368.90,332.23 L369.90,332.28 L370.90,332.32 L371.90,332.36 L372.90,332.40 L373.90,332.43 L374.90,332.47 L375.90,332.51 L376.90,332.54 L377.90,332.57 L378.90,332.60 L379.90,332.64 L380.90,332.67 L381.90,332.69 L382.90,332.72 L383.90,332.75 L384.90,332.78 L385.90,332.80 L386.90,332.83 L387.90,332.85 L388.90,332.88 L389.90,332.90 L390.90,332.92 L391.90,332.95 L392.90,332.97 L393.90,332.99 L394.90,333.01 L395.90,333.03 L396.90,333.05 L397.90,333.07 L398.90,333.09 L399.90,333.10 L400.90,333.12 L401.90,333.14 L402.90,333.15 L403.90,333.17 L404.90,333.19 L405.90,333.20 L406.90,333.22 L407.90,333.23 L408.90,333.25 L409.90,333.26 L410.90,333.27 L411.90,333.29 L412.90,333.30 L413.90,333.31 L414.90,333.33 L415.90,333.34 L416.90,333.35 L417.90,333.36 L418.90,333.37 L419.90,333.39 L420.90,333.40 L421.90,333.41 L422.90,333.42 L423.90,333.43 L424.90,333.44 L425.90,333.45 L426.90,333.46 L427.90,333.47 L428.90,333.48 L429.90,333.49 L430.90,333.49 L431.90,333.50 L432.90,333.51 L433.90,333.52 L434.90,333.53 L435.90,333.54 L436.90,333.54 L437.90,333.55 L438.90,333.56 L439.90,333.57 L440.90,333.57 L441.90,333.58 L442.90,333.59 L443.90,333.60 L444.90,333.60 L445.90,333.61 L446.90,333.62 L447.90,333.62 L448.90,333.63 L449.90,333.63 L450.90,333.64 L451.90,333.65 L452.90,333.65 L453.90,333.66 L454.90,333.66 L455.90,333.67 L456.90,333.68 L457.90,333.68 L458.90,333.69 L459.90,333.69 L460.90,333.70 L461.90,333.70 L462.90,333.71 L463.90,333.71 L464.90,333.72 L465.90,333.72 L466.90,333.73 L467.90,333.73 L468.90,333.73 L469.90,333.74 L470.90,333.74 L471.90,333.75 L472.90,333.75 L473.90,333.76 L474.90,333.76 L475.90,333.76 L476.90,333.77 L477.90,333.77 L478.90,333.78 L479.90,333.78 L480.90,333.78 L481.90,333.79 L482.90,333.79 L483.90,333.79 L484.90,333.80 L485.90,333.80 L486.90,333.81 L487.90,333.81 L488.90,333.81 L489.90,333.82 L490.90,333.82 L491.90,333.82 L492.90,333.82 L493.90,333.83 L494.90,333.83 L495.90,333.83 L496.90,333.84 L497.90,333.84 L498.90,333.84 L499.90,333.85 L500.90,333.85 L501.90,333.85 L502.90,333.85 L503.90,333.86 L504.90,333.86 L505.90,333.86 L506.90,333.86 L507.90,333.87 L508.90,333.87 L509.90,333.87 L510.90,333.87 L511.90,333.88 L512.90,333.88 L513.90,333.88 L514.90,333.88 L515.90,333.89 L516.90,333.89 L517.90,333.89 L518.90,333.89 L519.90,333.89 L520.90,333.90" stroke="#000"/>
<path d="M58.90,333.37 L59.90,333.36 L60.90,333.36 L61.90,333.35 L62.90,333.34 L63.90,333.33 L64.90,333.33 L65.90,333.32 L66.90,333.31 L67.90,333.30 L68.90,333.29 L69.90,333.29 L70.90,333.28 L71.90,333.27 L72.90,333.26 L73.90,333.25 L74.90,333.24 L75.90,333.23 L76.90,333.22 L77.90,333.21 L78.90,333.20 L79.90,333.19 L80.90,333.18 L81.90,333.17 L82.90,333.16 L83.90,333.15 L84.90,333.14 L85.90,333.13 L86.90,333.12 L87.90,333.11 L88.90,333.09 L89.90,333.08 L90.90,333.07 L91.90,333.06 L92.90,333.04 L93.90,333.03 L94.90,333.01 L95.90,333.00 L96.90,332.98 L97.90,332.97 L98.90,332.95 L99.90,332.94 L100.90,332.92 L101.90,332.90 L102.90,332.89 L103.90,332.87 L104.90,332.85 L105.90,332.83 L106.90,332.81 L107.90,332.79 L108.90,332.76 L109.90,332.74 L110.90,332.72 L111.90,332.69 L112.90,332.67 L113.90,332.64 L114.90,332.61 L115.90,332.58 L116.90,332.55 L117.90,332.52 L118.90,332.49 L119.90,332.45 L120.90,332.42 L121.90,332.38 L122.90,332.34 L123.90,332.29 L124.90,332.25 L125.90,332.20 L126.90,332.15 L127.90,332.10 L128.90,332.05 L129.90,331.99 L130.90,331.93 L131.90,331.87 L132.90,331.80 L133.90,331.73 L134.90,331.65 L135.90,331.57 L136.90,331.49 L137.90,331.40 L138.90,331.31 L139.90,331.22 L140.90,331.11 L141.90,331.01 L142.90,330.89 L143.90,330.77 L144.90,330.65 L145.90,330.52 L146.90,330.38 L147.90,330.23 L148.90,330.08 L149.90,329.92 L150.90,329.75 L151.90,329.57 L152.90,329.38 L153.90,329.18 L154.90,328.98 L155.90,328.76 L156.90,328.53 L157.90,328.30 L158.90,328.05 L159.90,327.79 L160.90,327.52 L161.90,327.23 L162.90,326.94 L163.90,326.63 L164.90,326.30 L165.90,325.97 L166.90,325.62 L167.90,325.25 L168.90,324.87 L169.90,324.48 L170.90,324.07 L171.90,323.65 L172.90,323.21 L173.90,322.75 L174.90,322.28 L175.90,321.79 L176.90,321.29 L177.90,320.77 L178.90,320.23 L179.90,319.67 L180.90,319.10 L181.90,318.51 L182.90,317.91 L183.90,317.29 L184.90,316.65 L185.90,315.99 L186.90,315.32 L187.90,314.63 L188.90,313.93 L189.90,313.21 L190.90,312.48 L191.90,311.73 L192.90,310.97 L193.90,310.19 L194.90,309.40 L195.90,308.60 L196.90,307.78 L197.90,306.96 L198.90,306.12 L199.90,305.27 L200.90,304.42 L201.90,303.55 L202.90,302.68 L203.90,301.80 L204.90,300.92 L205.90,300.04 L206.90,299.15 L207.90,298.26 L208.90,297.37 L209.90,296.48 L210.90,295.59 L211.90,294.70 L212.90,293.82 L213.90,292.95 L214.90,292.09 L215.90,291.23 L216.90,290.39 L217.90,289.56 L218.90,288.75 L219.90,287.95 L220.90,287.17 L221.90,286.40 L222.90,285.66 L223.90,284.95 L224.90,284.26 L225.90,283.59 L226.90,282.96 L227.90,282.35 L228.90,281.78 L229.90,281.24 L230.90,280.73 L231.90,280.26 L232.90,279.83 L233.90,279.44 L234.90,279.09 L235.90,278.78 L236.90,278.52 L237.90,278.29 L238.90,278.11 L239.90,277.98 L240.90,277.90 L241.90,277.85 L242.90,277.87 L243.90,277.96 L244.90,278.14 L245.90,278.41 L246.90,278.76 L247.90,279.19 L248.90,279.70 L249.90,280.28 L250.90,280.93 L251.90,281.65 L252.90,282.42 L253.90,283.26 L254.90,284.14 L255.90,285.07 L256.90,286.05 L257.90,287.06 L258.90,288.10 L259.90,289.17 L260.90,290.27 L261.90,291.38 L262.90,292.51 L263.90,293.65 L264.90,294.80 L265.90,295.96 L266.90,297.11 L267.90,298.26 L268.90,299.41 L269.90,300.55 L270.90,301.68 L271.90,302.80 L272.90,303.90 L273.90,304.99 L274.90,306.06 L275.90,307.11 L276.90,308.13 L277.90,309.14 L278.90,310.13 L279.90,311.08 L280.90,312.02 L281.90,312.93 L282.90,313.81 L283.90,314.67 L284.90,315.49 L285.90,316.30 L286.90,317.07 L287.90,317.82 L288.90,318.54 L289.90,319.23 L290.90,319.89 L291.90,320.53 L292.90,321.14 L293.90,321.73 L294.90,322.29 L295.90,322.82 L296.90,323.33 L297.90,323.82 L298.90,324.29 L299.90,324.73 L300.90,325.15 L301.90,325.55 L302.90,325.92 L303.90,326.28 L304.90,326.62 L305.90,326.95 L306.90,327.25 L307.90,327.54 L308.90,327.81 L309.90,328.07 L310.90,328.31 L311.90,328.54 L312.90,328.76 L313.90,328.97 L314.90,329.16 L315.90,329.34 L316.90,329.51 L317.90,329.68 L318.90,329.83 L319.90,329.97 L320.90,330.11 L321.90,330.24 L322.90,330.36 L323.90,330.48 L324.90,330.58 L325.90,330.69 L326.90,330.78 L327.90,330.88 L328.90,330.96 L329.90,331.05 L330.90,331.13 L331.90,331.20 L332.90,331.27 L333.90,331.34 L334.90,331.40 L335.90,331.47 L336.90,331.52 L337.90,331.58 L338.90,331.63 L339.90,331.69 L340.90,331.74 L341.90,331.78 L342.90,331.83 L343.90,331.87 L344.90,331.92 L345.90,331.96 L346.90,332.00 L347.90,332.03 L348.90,332.07 L349.90,332.11 L350.90,332.14 L351.90,332.18 L352.90,332.21 L353.90,332.24 L354.90,332.27 L355.90,332.30 L356.90,332.33 L357.90,332.36 L358.90,332.38 L359.90,332.41 L360.90,332.44 L361.90,332.46 L362.90,332.49 L363.90,332.51 L364.90,332.54 L365.90,332.56 L366.90,332.58 L367.90,332.60 L368.90,332.62 L369.90,332.65 L370.90,332.67 L371.90,332.69 L372.90,332.71 L373.90,332.73 L374.90,332.74 L375.90,332.76 L376.90,332.78 L377.90,332.80 L378.90,332.82 L379.90,332.83 L380.90,332.85 L381.90,332.87 L382.90,332.88 L383.90,332.90 L384.90,332.91 L385.90,332.93 L386.90,332.94 L387.90,332.96 L388.90,332.97 L389.90,332.98 L390.90,333.00 L391.90,333.01 L392.90,333.02 L393.90,333.04 L394.90,333.05 L395.90,333.06 L396.90,333.07 L397.90,333.09 L398.90,333.10 L399.90,333.11 L400.90,333.12 L401.90,333.13 L402.90,333.14 L403.90,333.15 L404.90,333.16 L405.90,333.18 L406.90,333.19 L407.90,333.20 L408.90,333.21 L409.90,333.21 L410.90,333.22 L411.90,333.23 L412.90,333.24 L413.90,333.25 L414.90,333.26 L415.90,333.27 L416.90,333.28 L417.90,333.29 L418.90,333.30 L419.90,333.30 L420.90,333.31 L421.90,333.32 L422.90,333.33 L423.90,333.33 L424.90,333.34 L425.90,333.35 L426.90,333.36 L427.90,333.36 L428.90,333.37 L429.90,333.38 L430.90,333.39 L431.90,333.39 L432.90,333.40 L433.90,333.41 L434.90,333.41 L435.90,333.42 L436.90,333.42 L437.90,333.43 L438.90,333.44 L439.90,333.44 L440.90,333.45 L441.90,333.45 L442.90,333.46 L443.90,333.47 L444.90,333.47 L445.90,333.48 L446.90,333.48 L447.90,333.49 L448.90,333.49 L449.90,333.50 L450.90,333.50 L451.90,333.51 L452.90,333.51 L453.90,333.52 L454.90,333.52 L455.90,333.53 L456.90,333.53 L457.90,333.54 L458.90,333.54 L459.90,333.55 L460.90,333.55 L461.90,333.56 L462.90,333.56 L463.90,333.56 L464.90,333.57 L465.90,333.57 L466.90,333.58 L467.90,333.58 L468.90,333.59 L469.90,333.59 L470.90,333.59 L471.90,333.60 L472.90,333.60 L473.90,333.61 L474.90,333.61 L475.90,333.61 L476.90,333.62 L477.90,333.62 L478.90,333.62 L479.90,333.63 L480.90,333.63 L481.90,333.63 L482.90,333.64 L483.90,333.64 L484.90,333.64 L485.90,333.65 L486.90,333.65 L487.90,333.65 L488.90,333.66 L489.90,333.66 L490.90,333.66 L491.90,333.67 L492.90,333.67 L493.90,333.67 L494.90,333.67 L495.90,333.68 L496.90,333.68 L497.90,333.68 L498.90,333.69 L499.90,333.69 L500.90,333.69 L501.90,333.69 L502.90,333.70 L503.90,333.70 L504.90,333.70 L505.90,333.70 L506.90,333.71 L507.90,333.71 L508.90,333.71 L509.90,333.72 L510.90,333.72 L511.90,333.72 L512.90,333.72 L513.90,333.72 L514.90,333.73 L515.90,333.73 L516.90,333.73 L517.90,333.73 L518.90,333.74 L519.90,333.74 L520.90,333.74" stroke="url(#bg)"/>
</g>
<rect x="58.7" y="10.6" width="462.6" height="336.8" fill="none" stroke="#2a2a2a" stroke-width="1.35" stroke-linejoin="round"/>
<g stroke="#222" stroke-width="1.3"><line x1="116.70" y1="343.80" x2="116.70" y2="347.4"/><line x1="174.50" y1="340.40" x2="174.50" y2="347.4"/><line x1="232.30" y1="343.80" x2="232.30" y2="347.4"/><line x1="290.10" y1="340.40" x2="290.10" y2="347.4"/><line x1="347.90" y1="343.80" x2="347.90" y2="347.4"/><line x1="405.70" y1="340.40" x2="405.70" y2="347.4"/><line x1="463.50" y1="343.80" x2="463.50" y2="347.4"/></g>
<line x1="60.5" y1="27.2" x2="99.2" y2="27.2" stroke="#000" stroke-width="3.6" stroke-linecap="round"/>
<line x1="60.5" y1="54.4" x2="99.2" y2="54.4" stroke="#ff0000" stroke-width="3.6" stroke-linecap="round"/>
<text transform="translate(103.50,32.20) scale(1,1.04)" font-size="21.5" letter-spacing="0.65">QDs-B</text>
<text transform="translate(105.00,59.20) scale(1,1.04)" font-size="21.5" letter-spacing="0.85">QDs-M</text>
<text transform="translate(358.90,64.30) scale(1,1.04)" font-size="21">T:25</text><circle cx="403.70" cy="51.50" r="1.45" fill="none" stroke="#333" stroke-width="0.85"/><path d="M416.83,51.64 A6.25,7.15 0 1 0 416.83,62.36 M416.83,49.54 L416.83,53.14" fill="none" stroke="#2a2a2a" stroke-width="1.15"/><text transform="translate(420.50,64.30) scale(1,1.04)" font-size="21">,</text><text transform="translate(433.00,64.30) scale(1,1.04)" font-size="21" letter-spacing="-0.2">v:60mL/h</text><text transform="translate(358.70,89.50) scale(1,1.04)" font-size="21" letter-spacing="-0.2">Br:0.4mmol</text>
<text transform="translate(358.90,169.40) scale(1,1.04)" font-size="21">T:25</text><circle cx="403.70" cy="156.60" r="1.45" fill="none" stroke="#333" stroke-width="0.85"/><path d="M416.83,156.74 A6.25,7.15 0 1 0 416.83,167.46 M416.83,154.64 L416.83,158.24" fill="none" stroke="#2a2a2a" stroke-width="1.15"/><text transform="translate(420.50,169.40) scale(1,1.04)" font-size="21">,</text><text transform="translate(433.00,169.40) scale(1,1.04)" font-size="21" letter-spacing="-0.2">v:30mL/h</text><text transform="translate(358.70,195.00) scale(1,1.04)" font-size="21" letter-spacing="-0.2">Br:0.4mmol</text>
<text transform="translate(358.90,298.70) scale(1,1.04)" font-size="21">T:75</text><circle cx="403.70" cy="285.90" r="1.45" fill="none" stroke="#333" stroke-width="0.85"/><path d="M416.83,286.04 A6.25,7.15 0 1 0 416.83,296.76 M416.83,283.94 L416.83,287.54" fill="none" stroke="#2a2a2a" stroke-width="1.15"/><text transform="translate(420.50,298.70) scale(1,1.04)" font-size="21">,</text><text transform="translate(433.00,298.70) scale(1,1.04)" font-size="21" letter-spacing="-0.2">v:60mL/h</text><text transform="translate(358.70,323.60) scale(1,1.04)" font-size="21" letter-spacing="-0.2">Br:0.4mmol</text>
<text transform="translate(58.90,377.30) scale(1,1.04)" font-size="28" text-anchor="middle">400</text><text transform="translate(174.50,377.30) scale(1,1.04)" font-size="28" text-anchor="middle">450</text><text transform="translate(290.10,377.30) scale(1,1.04)" font-size="28" text-anchor="middle">500</text><text transform="translate(405.70,377.30) scale(1,1.04)" font-size="28" text-anchor="middle">550</text><text transform="translate(521.30,377.30) scale(1,1.04)" font-size="28" text-anchor="middle">600</text>
<text transform="translate(182.00,423.60) scale(1,1.04)" font-size="28" letter-spacing="0.2">Wavelength (nm)</text>
<text transform="translate(31.80,270.60) rotate(-90) scale(1,1.04)" font-size="28" letter-spacing="0.2">PL Intensity</text>
</svg>
</body></html>
